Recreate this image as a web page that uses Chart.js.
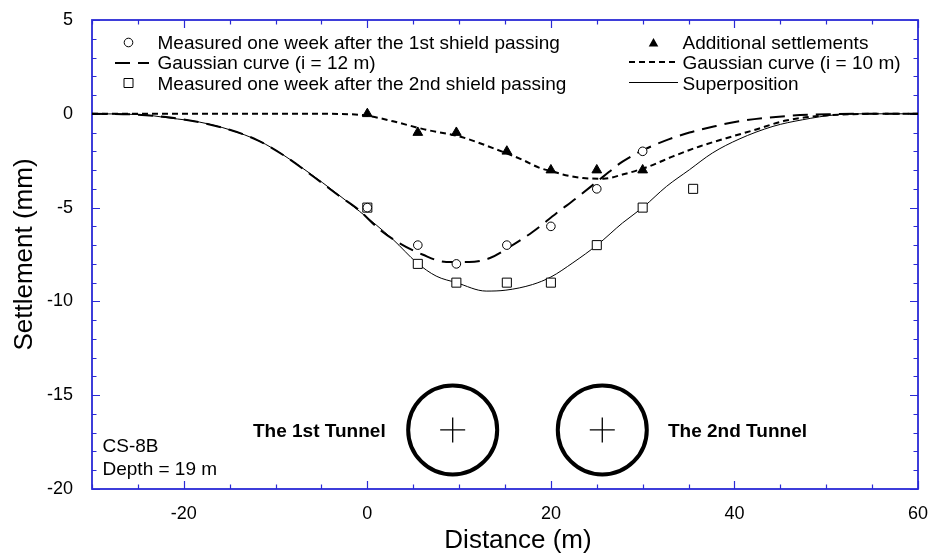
<!DOCTYPE html>
<html>
<head>
<meta charset="utf-8">
<script src="https://cdn.jsdelivr.net/npm/chart.js@4.4.1/dist/chart.umd.min.js"></script>
<style>
  html,body{margin:0;padding:0;background:#fff;}
  #wrap{width:931px;height:557px;}
</style>
</head>
<body>
<div id="wrap"><canvas id="chart" width="931" height="557"></canvas></div>
<script>
// axis ticks
const xTicks = [-20, 0, 20, 40, 60];
const yTicks = [5, 0, -5, -10, -15, -20];

// measured points
const firstX = [0, 5.5, 9.7, 15.2, 20, 25, 30];
const firstY = [-5, -7, -8, -7, -6, -4, -2];
const secondX = [0, 5.5, 9.7, 15.2, 20, 25, 30, 35.5];
const secondY = [-5, -8, -9, -9, -9, -7, -5, -4];
const addX = [0, 5.5, 9.7, 15.2, 20, 25, 30];
const addY = [0, -1, -1, -2, -3, -3, -3];

// curves
const gauss12X = [-30, -25, -20, -15, -12, -9, -6, -3, -1, 1.3, 3.5, 6, 8.6, 11.1, 13.3, 15.5, 18, 20.6, 22.9, 25.7, 27.8, 30.2, 32.9, 35.1, 38, 40.2, 45.6, 50.3, 55, 60];
const gauss12Y = [0, -0.05, -0.3, -0.85, -1.4, -2.25, -3.3, -4.4, -5.1, -6.15, -6.9, -7.5, -7.9, -7.9, -7.7, -7.1, -6.3, -5.3, -4.45, -3.35, -2.55, -1.9, -1.35, -1.0, -0.65, -0.42, -0.12, -0.02, 0, 0];

const gauss10X = [-30, -20, -10, -5, -2, 0, 2.8, 6.4, 10, 13.7, 16.9, 18.8, 20.2, 21.3, 23.5, 25.7, 27.8, 30.7, 33.3, 36.2, 39.1, 42, 45.6, 49.3, 52.9, 56, 60];
const gauss10Y = [0, 0, 0, 0, -0.02, -0.1, -0.4, -0.85, -1.2, -1.83, -2.45, -2.89, -3.07, -3.24, -3.42, -3.46, -3.24, -2.8, -2.27, -1.74, -1.3, -0.89, -0.36, -0.11, -0.02, 0, 0];

const superX = [-30, -24.8, -21.5, -18.3, -15, -11.7, -9.2, -6.3, -3.4, -0.85, 2.8, 5.4, 7.5, 9.7, 12.95, 15.1, 18, 20, 22.4, 25.1, 27.8, 30.1, 32.6, 35.1, 37.6, 40.5, 44.2, 47.4, 51.1, 54.7, 60];
const superY = [0, -0.04, -0.23, -0.44, -0.85, -1.47, -2.18, -3.16, -4.22, -5.2, -6.7, -7.94, -8.65, -9.0, -9.45, -9.4, -9.1, -8.7, -7.94, -6.97, -5.82, -4.96, -3.87, -2.98, -2.09, -1.35, -0.67, -0.32, -0.05, 0, 0];

// tunnel sketch
const tunnelX = [9.3, 25.6];
const tunnelY = [-16.85, -16.85];

const legendLeft = ['Measured one week after the 1st shield passing', 'Gaussian curve (i = 12 m)', 'Measured one week after the 2nd shield passing'];
const legendRight = ['Additional settlements', 'Gaussian curve (i = 10 m)', 'Superposition'];

const axisBlue = '#2a2ad6';
const FONT = '"Liberation Sans", Arial, sans-serif';

function pts(xs, ys){ return xs.map((x,i)=>({x, y:ys[i]})); }

function noPad(s){
  s.paddingLeft = 0; s.paddingRight = 0; s.paddingTop = 0; s.paddingBottom = 0;
}

function drawMark(ctx, type, x, y){
  ctx.save();
  ctx.strokeStyle = '#000'; ctx.fillStyle = '#fff'; ctx.lineWidth = 1;
  ctx.beginPath();
  if(type==='circle'){ ctx.arc(x, y, 4.3, 0, Math.PI*2); ctx.fill(); ctx.stroke(); }
  else if(type==='rect'){ ctx.rect(x-4.5, y-4.5, 9, 9); ctx.fill(); ctx.stroke(); }
  else if(type==='triangle'){ ctx.fillStyle='#000'; ctx.moveTo(x, y-5); ctx.lineTo(x+4.8, y+3.5); ctx.lineTo(x-4.8, y+3.5); ctx.closePath(); ctx.fill(); }
  ctx.restore();
}

function drawLine(ctx, x1, x2, y, dash, w){
  ctx.save();
  ctx.strokeStyle = '#000'; ctx.lineWidth = w; ctx.setLineDash(dash);
  ctx.beginPath(); ctx.moveTo(x1, y); ctx.lineTo(x2, y); ctx.stroke();
  ctx.restore();
}

const framePlugin = {
  id:'frame',
  beforeDatasetsDraw(chart){
    const {ctx, chartArea:a, scales:{x, y}} = chart;
    ctx.save();
    ctx.strokeStyle = axisBlue;
    ctx.lineWidth = 1.2;
    ctx.beginPath();
    for(let v = x.min; v <= x.max; v += 5){
      const px = Math.round(x.getPixelForValue(v)) + 0.5;
      const len = xTicks.includes(v) ? 8 : 4.5;
      ctx.moveTo(px, a.bottom); ctx.lineTo(px, a.bottom - len);
      ctx.moveTo(px, a.top); ctx.lineTo(px, a.top + len);
    }
    for(let v = y.min; v <= y.max; v += 1){
      const py = Math.round(y.getPixelForValue(v)) + 0.5;
      const len = yTicks.includes(v) ? 8 : 4.5;
      ctx.moveTo(a.left, py); ctx.lineTo(a.left + len, py);
      ctx.moveTo(a.right, py); ctx.lineTo(a.right - len, py);
    }
    ctx.stroke();
    ctx.lineWidth = 1.8;
    ctx.strokeRect(a.left, a.top, a.right - a.left, a.bottom - a.top);
    ctx.restore();
  },
  afterDraw(chart){
    const {ctx} = chart;
    ctx.save();
    ctx.fillStyle = '#000';
    ctx.textBaseline = 'alphabetic';
    ctx.font = '19px ' + FONT;
    // legend, left column
    drawMark(ctx, 'circle', 128.5, 42.5);
    drawLine(ctx, 115, 149, 63, [15, 8], 2);
    drawMark(ctx, 'rect', 128.5, 83);
    legendLeft.forEach((t,i)=>ctx.fillText(t, 157.5, 48.5 + i*20.7));
    // legend, right column
    drawMark(ctx, 'triangle', 653.5, 43);
    drawLine(ctx, 629, 678, 62, [6, 4], 2);
    drawLine(ctx, 629, 678, 82.5, [], 1);
    legendRight.forEach((t,i)=>ctx.fillText(t, 682.5, 48.5 + i*20.7));
    // section note
    ctx.fillText('CS-8B', 102.5, 452);
    ctx.fillText('Depth = 19 m', 102.5, 474.5);
    ctx.font = 'bold 19px ' + FONT;
    ctx.fillText('The 1st Tunnel', 253, 437);
    ctx.fillText('The 2nd Tunnel', 668, 437);
    // x title sits a little right of the plot centre in the original
    ctx.font = '26px ' + FONT;
    ctx.textAlign = 'center';
    ctx.fillText('Distance (m)', 518, 548);
    ctx.restore();
  }
};

new Chart(document.getElementById('chart'), {
  type:'scatter',
  data:{
    datasets:[
      {label:'Measured one week after the 1st shield passing', data:pts(firstX, firstY),
       pointStyle:'circle', pointRadius:4.3, pointBorderWidth:1, pointBorderColor:'#000', pointBackgroundColor:'#fff'},
      {label:'Measured one week after the 2nd shield passing', data:pts(secondX, secondY),
       pointStyle:'rect', pointRadius:6.4, pointBorderWidth:1, pointBorderColor:'#000', pointBackgroundColor:'#fff'},
      {label:'Additional settlements', data:pts(addX, addY),
       pointStyle:'triangle', pointRadius:5.6, pointBorderWidth:1, pointBorderColor:'#000', pointBackgroundColor:'#000'},
      {label:'Gaussian curve (i = 12 m)', data:pts(gauss12X, gauss12Y), showLine:true, pointRadius:0,
       borderColor:'#000', borderWidth:2, borderDash:[15, 8], cubicInterpolationMode:'monotone'},
      {label:'Gaussian curve (i = 10 m)', data:pts(gauss10X, gauss10Y), showLine:true, pointRadius:0,
       borderColor:'#000', borderWidth:2, borderDash:[6, 4], cubicInterpolationMode:'monotone'},
      {label:'Superposition', data:pts(superX, superY), showLine:true, pointRadius:0,
       borderColor:'#000', borderWidth:1, cubicInterpolationMode:'monotone'},
      {label:'Tunnel', data:pts(tunnelX, tunnelY), pointStyle:'circle', pointRadius:44.5,
       pointBorderWidth:4, pointBorderColor:'#000', pointBackgroundColor:'rgba(0,0,0,0)'},
      {label:'Tunnel centre', data:pts(tunnelX, tunnelY), pointStyle:'cross', pointRadius:12.5,
       pointBorderWidth:1.3, pointBorderColor:'#000'}
    ]
  },
  options:{
    responsive:false,
    animation:false,
    events:[],
    // the big tunnel rings must not push the plot frame inwards
    layout:{autoPadding:false, padding:{top:20, right:13, left:0, bottom:0}},
    plugins:{legend:{display:false}, tooltip:{enabled:false}},
    scales:{
      x:{
        type:'linear', min:-30, max:60,
        afterBuildTicks:s=>{ s.ticks = xTicks.map(v=>({value:v})); },
        afterFit:s=>{ s.height = 68; noPad(s); },
        grid:{display:false, drawTicks:false}, border:{display:false},
        ticks:{color:'#000', padding:14, font:{family:FONT, size:18}},
        title:{display:false}
      },
      y:{
        type:'linear', min:-20, max:5,
        afterBuildTicks:s=>{ s.ticks = yTicks.map(v=>({value:v})); },
        afterFit:s=>{ s.width = 92; noPad(s); },
        grid:{display:false, drawTicks:false}, border:{display:false},
        ticks:{color:'#000', padding:19, font:{family:FONT, size:18}},
        title:{display:true, text:'Settlement (mm)', color:'#000', padding:{top:9, bottom:0}, font:{family:FONT, size:26}}
      }
    }
  },
  plugins:[framePlugin]
});
</script>
</body>
</html>
